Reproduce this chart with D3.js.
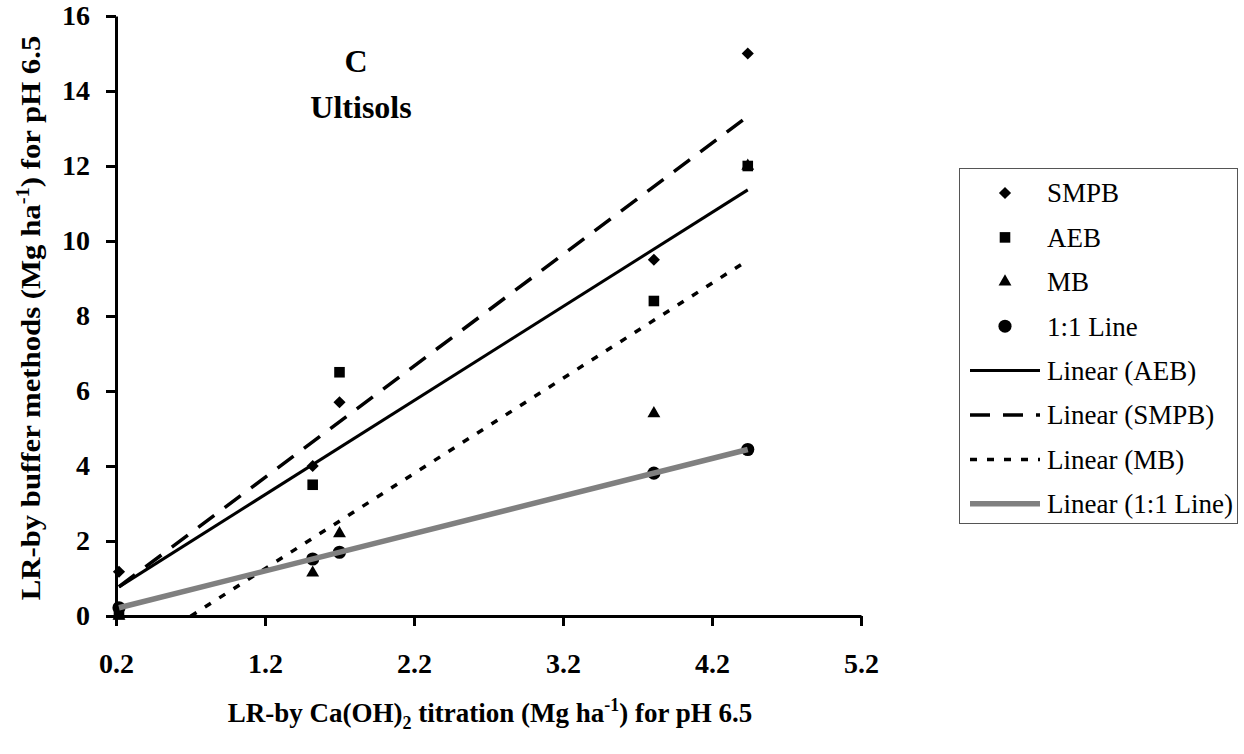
<!DOCTYPE html>
<html>
<head>
<meta charset="utf-8">
<script src="https://cdn.jsdelivr.net/npm/d3@7"></script>
<style>
  html, body { margin: 0; padding: 0; background: #fff; }
  svg { display: block; font-family: "Liberation Serif", "Times New Roman", serif; }
</style>
</head>
<body>
<svg id="chart" width="1244" height="754"></svg>
<script>
// Lime requirement (Mg/ha) from Ca(OH)2 titration vs. buffer methods, Ultisols
const titrationLR = [0.22, 1.52, 1.70, 3.81, 4.44];
const smpbLR      = [1.18, 4.0, 5.7, 9.5, 15.0];
const aebLR       = [0.05, 3.5, 6.5, 8.4, 12.0];
const mbLR        = [0.0, 1.15, 2.2, 5.4, 12.0];
const oneToOneLR  = [0.22, 1.52, 1.70, 3.81, 4.44];

const xTicks = [0.2, 1.2, 2.2, 3.2, 4.2, 5.2];
const yTicks = [0, 2, 4, 6, 8, 10, 12, 14, 16];

const svg = d3.select("#chart");

const x = d3.scaleLinear().domain([0.2, 5.2]).range([116, 861]);
const y = d3.scaleLinear().domain([0, 16]).range([616, 16]);

// Series definitions (markers + trendline styling)
const series = [
  { name: "SMPB",     values: smpbLR,     symbol: "diamond" },
  { name: "AEB",      values: aebLR,      symbol: "square" },
  { name: "MB",       values: mbLR,       symbol: "triangle" },
  { name: "1:1 Line", values: oneToOneLR, symbol: "circle" }
];

const trendStyles = {
  "AEB":      { stroke: "#000", width: 3,   dash: null },
  "SMPB":     { stroke: "#000", width: 3.5, dash: "20,13" },
  "MB":       { stroke: "#000", width: 3.5, dash: "7,10" },
  "1:1 Line": { stroke: "#808080", width: 5.5, dash: null }
};
const trendOrder = ["AEB", "SMPB", "MB", "1:1 Line"];

function symbolPath(kind) {
  if (kind === "diamond") return d3.symbol(d3.symbolSquare, 74)();
  if (kind === "square") return d3.symbol(d3.symbolSquare, 112)();
  if (kind === "triangle") return d3.symbol(d3.symbolTriangle, 72)();
  return d3.symbol(d3.symbolCircle, 135)();
}
function symbolTransform(kind, cx, cy) {
  return kind === "diamond" ? `translate(${cx},${cy}) rotate(45)` : `translate(${cx},${cy})`;
}

// Least-squares fit of a series against titration values
function linearFit(xs, ys) {
  const n = xs.length;
  const mx = d3.mean(xs), my = d3.mean(ys);
  let sxy = 0, sxx = 0;
  for (let i = 0; i < n; i++) {
    sxy += (xs[i] - mx) * (ys[i] - my);
    sxx += (xs[i] - mx) * (xs[i] - mx);
  }
  const slope = sxy / sxx;
  return { slope, intercept: my - slope * mx };
}

// Clip region = plot area
svg.append("defs").append("clipPath").attr("id", "plotClip")
  .append("rect")
  .attr("x", x(0.2)).attr("y", y(16))
  .attr("width", x(5.2) - x(0.2)).attr("height", y(0) - y(16));

// Axes
const yAxis = d3.axisLeft(y).tickValues(yTicks).tickFormat(d3.format("d"))
  .tickSize(10).tickSizeOuter(0).tickPadding(16);
const xAxis = d3.axisBottom(x).tickValues(xTicks).tickFormat(d3.format(".1f"))
  .tickSize(10).tickSizeOuter(0).tickPadding(27);

const gx = svg.append("g").attr("transform", `translate(0,${y(0)})`).call(xAxis);
const gy = svg.append("g").attr("transform", `translate(${x(0.2)},0)`).call(yAxis);

[gx, gy].forEach(g => {
  g.selectAll("path, line").attr("stroke", "#000").attr("stroke-width", 3);
  g.selectAll("text").attr("fill", "#000")
    .style("font-family", '"Liberation Serif", serif')
    .style("font-size", "28px").style("font-weight", "bold");
});

// Data markers
const markers = svg.append("g");
series.forEach(s => {
  markers.selectAll(null)
    .data(s.values.map((v, i) => [titrationLR[i], v]))
    .join("path")
    .attr("d", symbolPath(s.symbol))
    .attr("transform", d => symbolTransform(s.symbol, x(d[0]), y(d[1])))
    .attr("fill", "#000");
});

// Linear trendlines spanning the x-range of the data
const trends = svg.append("g").attr("clip-path", "url(#plotClip)");
const xMin = d3.min(titrationLR), xMax = d3.max(titrationLR);
trendOrder.forEach(name => {
  const s = series.find(d => d.name === name);
  const fit = linearFit(titrationLR, s.values);
  const st = trendStyles[name];
  trends.append("line")
    .attr("x1", x(xMin)).attr("y1", y(fit.intercept + fit.slope * xMin))
    .attr("x2", x(xMax)).attr("y2", y(fit.intercept + fit.slope * xMax))
    .attr("stroke", st.stroke).attr("stroke-width", st.width)
    .attr("stroke-dasharray", st.dash);
});

// Panel annotation
svg.append("text").attr("x", 356).attr("y", 72).attr("text-anchor", "middle")
  .style("font-size", "32px").style("font-weight", "bold").text("C");
svg.append("text").attr("x", 361).attr("y", 118).attr("text-anchor", "middle")
  .style("font-size", "32px").style("font-weight", "bold").text("Ultisols");

// Axis titles
const xt = svg.append("text").attr("x", 490).attr("y", 722).attr("text-anchor", "middle")
  .style("font-size", "27px").style("font-weight", "bold");
xt.append("tspan").text("LR-by Ca(OH)");
xt.append("tspan").attr("dy", 7).style("font-size", "18px").text("2");
xt.append("tspan").attr("dy", -7).text(" titration (Mg ha");
xt.append("tspan").attr("dy", -11).style("font-size", "18px").text("-1");
xt.append("tspan").attr("dy", 11).text(") for pH 6.5");

const yt = svg.append("text")
  .attr("transform", "translate(40,318) rotate(-90) scale(1.14,1)")
  .attr("text-anchor", "middle")
  .style("font-size", "27px").style("font-weight", "bold");
yt.append("tspan").text("LR-by buffer methods (Mg ha");
yt.append("tspan").attr("dy", -11).style("font-size", "18px").text("-1");
yt.append("tspan").attr("dy", 11).text(") for pH 6.5");

// Legend
const legend = svg.append("g");
legend.append("rect").attr("x", 959.5).attr("y", 168.5).attr("width", 278).attr("height", 355)
  .attr("fill", "#fff").attr("stroke", "#555").attr("stroke-width", 1);

const legendItems = [
  ...series.map(s => ({ label: s.name, symbol: s.symbol })),
  ...trendOrder.map(n => ({ label: `Linear (${n})`, trend: n }))
];
legendItems.forEach((item, i) => {
  const cy = 193 + i * 44.4;
  if (item.symbol) {
    legend.append("path").attr("d", symbolPath(item.symbol))
      .attr("transform", symbolTransform(item.symbol, 1005, cy)).attr("fill", "#000");
  } else {
    const st = trendStyles[item.trend];
    legend.append("line").attr("x1", 970).attr("x2", 1040).attr("y1", cy).attr("y2", cy)
      .attr("stroke", st.stroke).attr("stroke-width", st.width)
      .attr("stroke-dasharray", st.dash);
  }
  legend.append("text").attr("x", 1047).attr("y", cy).attr("dy", "0.35em")
    .style("font-size", "27px").text(item.label);
});
</script>
</body>
</html>
